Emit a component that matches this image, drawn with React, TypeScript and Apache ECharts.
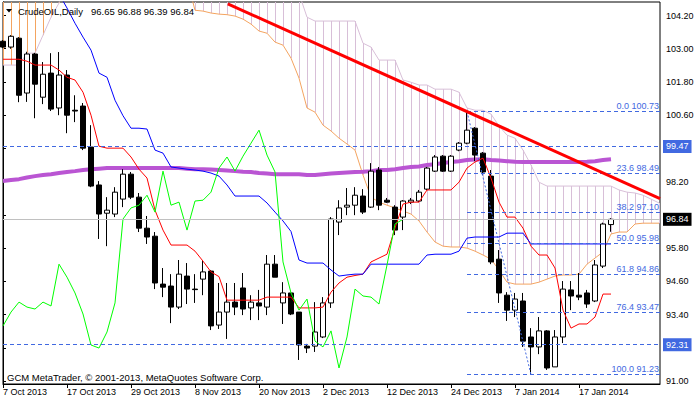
import React, { useEffect, useRef } from "react";
import * as echarts from "echarts";

// ---------- data ----------
const opens = [103.27,103.06,103.38,101.40,102.81,101.25,102.12,100.86,102.05,100.78,
100.93,99.45,98.08,97.06,97.03,97.57,98.47,97.64,96.52,96.23,
94.50,94.43,93.67,94.79,94.32,94.68,94.97,93.02,93.49,93.85,
94.36,93.64,93.82,93.67,95.22,93.82,94.18,93.49,92.26,92.26,
92.59,93.82,96.74,97.28,97.35,97.68,97.28,98.62,97.53,97.28,
96.92,97.46,97.50,97.93,98.58,99.12,98.58,99.34,99.59,100.13,
99.23,98.40,95.40,94.10,93.56,93.89,92.59,92.23,92.81,91.51,
92.59,94.29,94.10,94.18,93.89,95.15,96.65];
const highs = [103.31,103.49,103.42,102.89,102.85,102.52,102.84,102.88,102.23,101.32,
101.04,100.24,98.22,97.64,98.00,98.65,98.55,97.79,96.96,96.38,
95.08,94.86,95.37,95.26,94.86,95.37,95.01,94.54,94.54,94.54,
94.90,94.10,94.29,95.55,95.55,94.57,94.18,93.49,92.34,93.85,
94.03,96.92,97.53,97.97,98.00,97.93,98.87,98.73,97.61,97.35,
97.53,97.61,97.90,98.73,99.16,99.16,99.16,99.63,100.73,100.17,
99.27,98.62,95.73,94.21,94.18,94.18,92.91,93.31,92.84,92.84,
94.61,94.61,94.90,94.29,95.37,96.72,96.88];
const lows = [103.02,103.00,101.07,101.08,100.49,101.00,100.75,100.60,99.95,100.35,
99.34,98.00,96.13,95.87,96.92,97.28,97.57,96.38,95.95,94.32,
94.03,93.09,93.60,93.78,93.82,94.10,92.84,92.88,92.52,93.38,
93.38,93.20,93.20,93.38,94.75,93.06,93.38,91.76,92.01,92.05,
92.55,93.64,96.27,96.99,96.99,97.03,97.25,97.17,97.43,96.27,
96.45,97.39,97.46,97.90,98.55,98.55,98.55,99.30,99.55,98.94,
98.44,95.22,93.82,93.17,93.31,92.23,91.23,91.97,91.40,91.51,
92.37,93.56,93.92,93.64,93.85,95.08,96.39];
const closes = [103.06,103.45,101.32,102.81,101.72,102.08,100.82,102.05,100.60,100.75,
99.41,98.04,97.03,97.17,97.82,98.47,97.64,96.52,96.20,94.54,
94.39,93.67,94.86,94.32,94.30,94.94,92.99,93.49,93.85,93.67,
93.60,93.85,93.71,95.22,94.75,94.18,93.42,92.30,92.19,92.77,
93.82,96.85,97.25,97.35,97.71,97.10,98.58,97.35,97.46,96.45,
97.50,97.53,97.82,98.69,99.09,98.58,99.12,99.59,100.06,99.16,
98.55,95.30,94.18,93.56,93.96,92.44,92.23,92.81,91.47,92.59,
94.32,94.07,94.03,93.78,95.19,96.67,96.84];

// Ichimoku: Tenkan-sen (red), Kijun-sen (blue)
const tenkan = [102.62,102.62,102.62,102.55,102.41,102.41,102.41,102.23,101.97,101.87,
101.43,100.60,99.48,99.41,99.41,99.41,99.09,98.65,98.33,97.17,
96.45,95.91,95.91,95.91,95.69,95.33,94.94,94.77,93.92,93.92,
93.92,93.92,93.92,94.03,94.03,94.03,94.03,93.64,93.64,93.64,
93.67,94.21,94.54,94.75,94.81,94.86,95.30,95.44,95.58,96.52,
97.39,97.46,97.46,97.90,97.90,97.90,97.90,98.18,98.69,98.91,
99.05,98.33,97.46,96.92,96.92,96.52,95.87,95.55,95.55,95.08,
93.56,92.91,93.06,93.06,93.31,94.14,94.14];
const kijun = [105.9,105.9,105.9,105.8,105.8,105.7,105.56,104.98,104.47,103.92,
103.42,102.95,102.12,101.97,101.14,100.58,100.13,100.13,100.10,99.34,
99.23,98.73,98.69,98.65,98.62,98.58,98.51,98.40,98.08,97.68,
97.68,97.68,97.68,97.43,97.10,96.78,96.40,95.37,95.26,95.26,
95.26,95.01,94.79,94.83,94.86,94.86,95.22,95.22,95.22,95.22,
95.22,95.22,95.22,95.55,95.58,95.58,95.58,95.69,96.16,96.20,
96.20,96.20,96.20,96.34,96.34,96.34,95.95,95.95,95.95,95.95,
95.95,95.95,95.95,95.95,95.95,95.95,95.95];
// Senkou spans (already shifted forward, bars 0..82)
const spanA = [106,106,106,106,106,106,106,
105.5,105.5,105.5,105.5,105.5,105.5,105.5,105.5,105.5,105.5,105.5,105.5,105.5,105.5,105.5,105.5,105.5,
104.39,104.36,104.29,104.25,104.23,104.18,104.07,103.89,103.64,103.56,
103.24,103.13,102.66,101.94,100.86,100.71,100.24,100.03,99.77,99.56,
99.34,98.44,97.64,97.46,97.35,97.25,97.14,97.03,96.78,96.38,
96.02,95.87,95.84,95.84,95.80,95.69,95.55,95.40,95.01,94.57,
94.50,94.50,94.50,94.57,94.68,94.79,94.83,94.83,94.86,95.22,
95.44,95.66,96.31,96.38,96.38,96.67,96.70,96.70,96.70];
const spanB = [102.41,102.41,102.41,102.84,102.84,103.49,104.14,104.65,
106,106,106,106,106,106,106,106,106,106,106,106,106,106,106,106,106,106,106,106,106,106,106,106,106,106,106,106,106,
105.0,
104.14,104.00,104.00,104.00,104.00,104.00,104.00,
103.20,103.06,102.59,102.59,102.59,101.87,101.79,101.69,101.69,101.54,
101.54,101.54,101.43,100.86,100.78,100.78,100.64,100.21,99.88,99.77,
99.34,98.80,98.18,98.04,98.04,98.04,98.04,98.04,98.04,98.04,
98.04,98.04,97.90,97.82,97.79,97.71,97.57,97.43];
const chikouShift = 26;
// moving average (purple)
const ma = [98.22,98.26,98.29,98.35,98.40,98.44,98.47,98.51,98.55,98.58,
98.62,98.65,98.67,98.69,98.69,98.69,98.69,98.69,98.69,98.69,
98.69,98.69,98.69,98.67,98.65,98.65,98.64,98.62,98.60,98.58,
98.56,98.55,98.51,98.49,98.47,98.47,98.47,98.47,98.44,98.44,
98.47,98.49,98.51,98.53,98.55,98.56,98.58,98.62,98.62,98.65,
98.69,98.73,98.75,98.80,98.83,98.87,98.91,98.94,98.98,99.00,
99.01,98.98,98.96,98.94,98.92,98.91,98.91,98.91,98.91,98.91,
98.91,98.91,98.91,98.92,98.94,98.98,99.01];

const xTickBars = [0, 8, 16, 24, 32, 40, 48, 56, 64, 72];
const xTickLabels = ["7 Oct 2013","17 Oct 2013","29 Oct 2013","8 Nov 2013","20 Nov 2013",
  "2 Dec 2013","12 Dec 2013","24 Dec 2013","7 Jan 2014","17 Jan 2014"];
const yTickValues = [91.0, 92.2, 93.4, 94.6, 95.8, 97.0, 98.2, 99.4, 100.6, 101.8, 103.0, 104.2];
// labels hidden behind the highlighted price boxes in the reference
const yLabelValues = [91.0, 93.4, 94.6, 95.8, 98.2, 100.6, 101.8, 103.0, 104.2];

const fibLevels = [0, 23.6, 38.2, 50, 61.8, 76.4, 100];
const fibPrices = [100.73, 98.49, 97.10, 95.98, 94.86, 93.47, 91.23];
const fibStartBar = 58;
const fibEndBar = 66;
const hLevels = [99.47, 92.31];
const lastPrice = 96.84;
const trendStart = [28.1, 104.62];
const trendEnd = [82.125, 97.59];

const symbolName = "CrudeOIL,Daily";
const copyright = "GCM MetaTrader, \u00a9 2001-2013, MetaQuotes Software Corp.";

// ---------- layout / style ----------
const Y_MIN = 90.892;
const Y_MAX = 104.688;
const X_MAX = 82.125;
const FONT = 'Tahoma, "Liberation Sans", Arial, sans-serif';
const C_LEVEL = "#4169E1";
const C_SPANA = "#F4A460";
const C_SPANB = "#D8BFD8";

function buildOption(): any {
  const n = closes.length;
  const candles = closes.map((c, i) => [i, opens[i], c, lows[i], highs[i]]);
  const kumo = spanA.map((a, i) => [i, a, spanB[i]]);
  const last = n - 1;
  const ohlcText = [opens[last], highs[last], lows[last], closes[last]].map((v) => v.toFixed(2)).join(" ");

  const boxLabel = (txt: string, bg: string) => ({
    show: true,
    position: "end",
    formatter: txt,
    backgroundColor: bg,
    color: "#fff",
    padding: [1, 3, 1, 3],
    distance: 3,
    fontSize: 9,
    lineHeight: 11,
    fontFamily: FONT,
  });

  const markData: any[] = [];
  hLevels.forEach((v) => {
    markData.push({
      yAxis: v,
      lineStyle: { color: C_LEVEL, type: [4, 3], width: 1 },
      label: boxLabel(v.toFixed(2), C_LEVEL),
    });
  });
  markData.push({
    yAxis: lastPrice,
    lineStyle: { color: "#C0C0C0", type: "solid", width: 1 },
    label: boxLabel(lastPrice.toFixed(2), "#000"),
  });
  fibPrices.forEach((p, k) => {
    markData.push([
      {
        coord: [fibStartBar, p],
        lineStyle: { color: C_LEVEL, type: [4, 3], width: 1 },
        label: {
          show: true,
          position: "insideEndTop",
          formatter: `${fibLevels[k].toFixed(1)} ${p.toFixed(2)}`,
          color: C_LEVEL,
          fontSize: 9,
          fontFamily: FONT,
          distance: [1, 1],
        },
      },
      { coord: [X_MAX, p] },
    ]);
  });
  markData.push([
    {
      coord: [fibStartBar, fibPrices[0]],
      lineStyle: { color: C_LEVEL, type: [2, 2], width: 1 },
      label: { show: false },
    },
    { coord: [fibEndBar, fibPrices[fibPrices.length - 1]] },
  ]);
  markData.push([
    {
      coord: trendStart,
      lineStyle: { color: "#FF0000", type: "solid", width: 3 },
      label: { show: false },
    },
    { coord: trendEnd },
  ]);

  const lineS = (name: string, data: any[], color: string, width: number, z: number) => ({
    type: "line",
    name,
    data,
    showSymbol: false,
    symbol: "none",
    silent: true,
    z,
    lineStyle: { color, width },
    clip: true,
  });

  return {
    animation: false,
    backgroundColor: "#fff",
    grid: {
      left: 3,
      right: 40,
      top: 2,
      bottom: 18,
      show: true,
      borderColor: "#000",
      borderWidth: 1,
      backgroundColor: "transparent",
    },
    xAxis: {
      type: "value",
      min: 0,
      max: X_MAX,
      splitLine: { show: false },
      axisLine: { show: true, lineStyle: { color: "#000", width: 1 } },
      axisTick: { show: true, customValues: xTickBars, length: 4, lineStyle: { color: "#000" } },
      axisLabel: {
        customValues: xTickBars,
        formatter: (v: number) => {
          const k = xTickBars.indexOf(Math.round(v));
          return k >= 0 ? xTickLabels[k] : "";
        },
        align: "left",
        margin: 3,
        color: "#000",
        fontSize: 9,
        fontFamily: FONT,
      },
    },
    yAxis: {
      type: "value",
      position: "right",
      min: Y_MIN,
      max: Y_MAX,
      scale: true,
      splitLine: { show: false },
      axisLine: { show: true, lineStyle: { color: "#000", width: 1 } },
      axisTick: { show: true, customValues: yTickValues, length: 3, lineStyle: { color: "#000" } },
      axisLabel: {
        customValues: yLabelValues,
        formatter: (v: number) => v.toFixed(2),
        margin: 6,
        color: "#000",
        fontSize: 9,
        fontFamily: FONT,
      },
    },
    graphic: [
      { type: "polygon", shape: { points: [[6, 9], [12, 9], [9, 12.5]] }, style: { fill: "#000" }, z: 100 },
      {
        type: "text", x: 18, y: 11, z: 100,
        style: { text: symbolName, fill: "#000", fontSize: 9.5, fontFamily: FONT, textVerticalAlign: "middle", verticalAlign: "middle" },
      },
      {
        type: "text", x: 91, y: 11, z: 100,
        style: { text: ohlcText, fill: "#000", fontSize: 9.5, fontFamily: FONT, textVerticalAlign: "middle", verticalAlign: "middle" },
      },
      {
        type: "text", x: 7, y: 377, z: 100,
        style: { text: copyright, fill: "#000", fontSize: 9.5, fontFamily: FONT, textVerticalAlign: "middle", verticalAlign: "middle" },
      },
    ],
    series: [
      {
        type: "custom",
        name: "kumo",
        data: kumo,
        encode: { x: 0, y: [1, 2] },
        silent: true,
        z: 1,
        renderItem: (params: any, api: any) => {
          const i = api.value(0);
          const a = api.value(1);
          const b = api.value(2);
          const p1 = api.coord([i, a]);
          const p2 = api.coord([i, b]);
          const cs = params.coordSys;
          const top = cs.y;
          const bottom = cs.y + cs.height;
          if (p1[0] < cs.x - 0.6 || p1[0] > cs.x + cs.width) return { type: "group", children: [] };
          const y1 = Math.max(top, Math.min(bottom, p1[1]));
          const y2 = Math.max(top, Math.min(bottom, p2[1]));
          if (Math.abs(y1 - y2) < 0.5) return { type: "group", children: [] };
          const x = Math.round(p1[0]) + 0.5;
          return {
            type: "line",
            shape: { x1: x, y1, x2: x, y2 },
            style: { stroke: b > a ? C_SPANB : C_SPANA, lineWidth: 1 },
          };
        },
      },
      lineS("spanA", spanA.map((v, i) => [i, v]), C_SPANA, 1, 2),
      lineS("spanB", spanB.map((v, i) => [i, v]), C_SPANB, 1, 2),
      lineS("ma", ma.map((v, i) => [i, v]), "#BA55D3", 4, 2),
      {
        type: "candlestick",
        name: "CrudeOIL",
        data: candles,
        encode: { x: 0, y: [1, 2, 3, 4] },
        barWidth: 5,
        silent: true,
        z: 3,
        clip: true,
        itemStyle: {
          color: "#fff",
          color0: "#000",
          borderColor: "#000",
          borderColor0: "#000",
          borderColorDoji: "#000",
          borderWidth: 1,
        },
      },
      lineS("tenkan", tenkan.map((v, i) => [i, v]), "#FF0000", 1, 4),
      lineS("kijun", kijun.map((v, i) => [i, v]), "#0000FF", 1, 4),
      lineS("chikou", closes.slice(chikouShift).map((v, i) => [i, v]), "#00FF00", 1, 4),
      {
        type: "line",
        name: "objects",
        data: [],
        silent: true,
        z: 5,
        markLine: {
          silent: true,
          animation: false,
          symbol: ["none", "none"],
          data: markData,
        },
      },
    ],
  };
}

export default function App() {
  const ref = useRef<HTMLDivElement>(null);
  useEffect(() => {
    if (!ref.current) return;
    const chart = echarts.init(ref.current, null, { renderer: "svg" });
    chart.setOption(buildOption());
    return () => chart.dispose();
  }, []);
  return (
    <div
      ref={ref}
      style={{ position: "fixed", left: 0, top: 0, width: 700, height: 402, background: "#fff" }}
    />
  );
}
